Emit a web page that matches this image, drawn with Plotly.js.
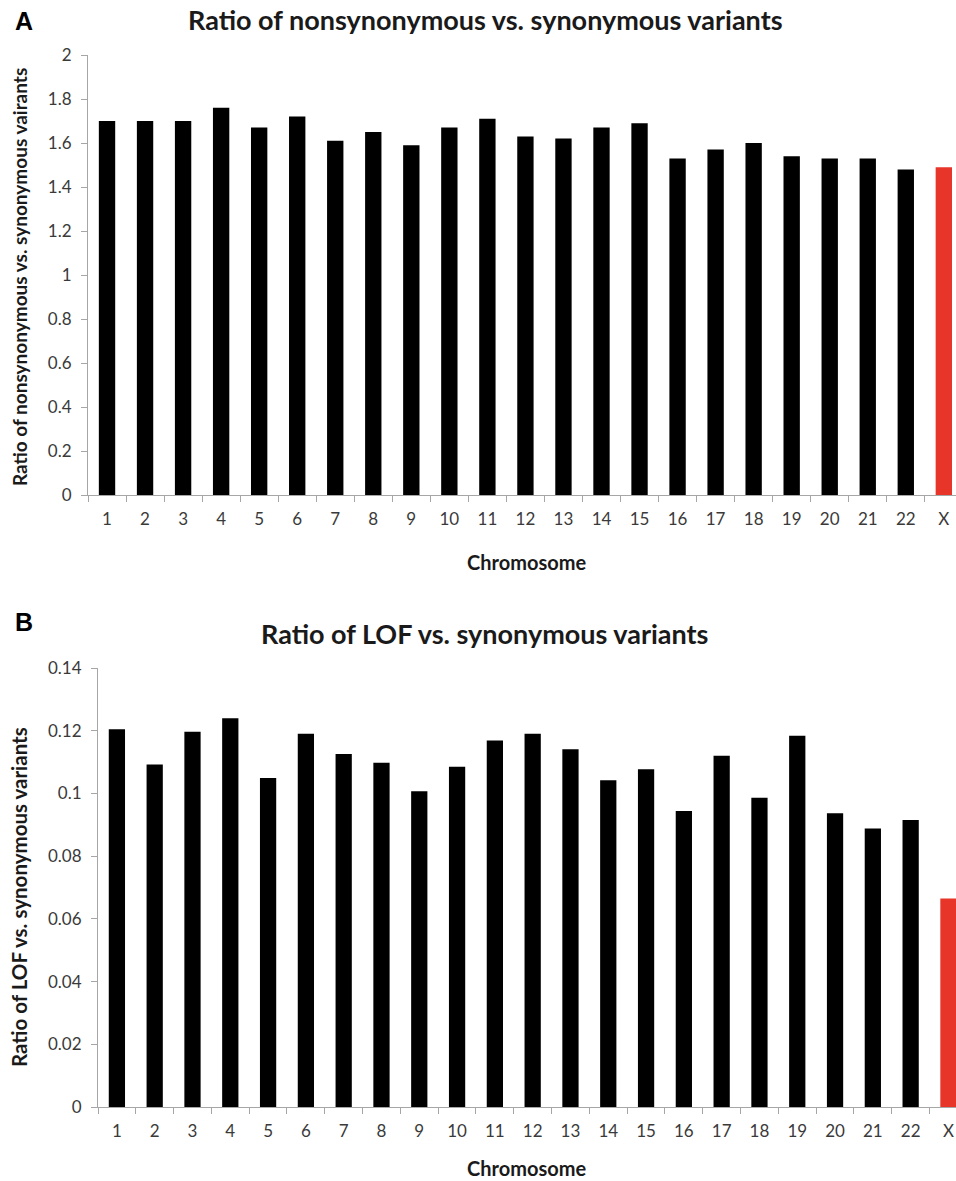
<!DOCTYPE html>
<html>
<head>
<meta charset="utf-8">
<script src="https://cdn.plot.ly/plotly-3.0.1.min.js"></script>
<style>html,body{margin:0;padding:0;background:#fff;}#chart{width:956px;height:1181px;}</style>
</head>
<body>
<div id="chart"></div>
<script>
const chromosomes = ['1','2','3','4','5','6','7','8','9','10','11','12','13','14','15','16','17','18','19','20','21','22','X'];
const nonsynRatio = [1.70,1.70,1.70,1.76,1.67,1.72,1.61,1.65,1.59,1.67,1.71,1.63,1.62,1.67,1.69,1.53,1.57,1.60,1.54,1.53,1.53,1.48,1.49];
const lofRatio = [0.1205,0.1092,0.1197,0.1240,0.1049,0.1190,0.1126,0.1098,0.1007,0.1085,0.1169,0.1190,0.1141,0.1042,0.1077,0.0944,0.1120,0.0986,0.1184,0.0937,0.0888,0.0915,0.0665];
const titleA = 'Ratio of nonsynonymous vs. synonymous variants';
const titleB = 'Ratio of LOF vs. synonymous variants';
const yTitleA = 'Ratio of nonsynonymous vs. synonymous vairants';
const yTitleB = 'Ratio of LOF vs. synonymous variants';
const xTitle = 'Chromosome';

const W = 956, H = 1181;
const barColors = chromosomes.map(c => c === 'X' ? '#e8352a' : '#000000');
const FONT = 'Lato, "Open Sans", sans-serif';

const traces = [
  {type:'bar', x:chromosomes, y:nonsynRatio, marker:{color:barColors, line:{width:0}}, xaxis:'x', yaxis:'y', hoverinfo:'x+y'},
  {type:'bar', x:chromosomes, y:lofRatio, marker:{color:barColors, line:{width:0}}, xaxis:'x2', yaxis:'y2', hoverinfo:'x+y'}
];

const axisCommon = {
  showgrid:false, zeroline:false, showline:true, linecolor:'#a6a6a6', linewidth:1,
  ticks:'outside', ticklen:6, tickcolor:'#a6a6a6', tickwidth:1,
  tickfont:{family:FONT, size:17, color:'#3a3a3a'}, fixedrange:true
};

const py = v => 1 - v / H;
const px = v => v / W;

const layout = {
  width:W, height:H, margin:{l:0,r:0,t:0,b:0}, paper_bgcolor:'#fff', plot_bgcolor:'#fff',
  showlegend:false, bargap:0.57,
  xaxis: Object.assign({}, axisCommon, {domain:[px(88),1], anchor:'y', type:'category', range:[-0.5,22.32], tickson:'boundaries', ticklabelstandoff:9}),
  yaxis: Object.assign({}, axisCommon, {domain:[py(495),py(55)], anchor:'x', range:[0,2], tickvals:[0,0.2,0.4,0.6,0.8,1,1.2,1.4,1.6,1.8,2], ticktext:['0','0.2','0.4','0.6','0.8','1','1.2','1.4','1.6','1.8','2'], ticklabelstandoff:6}),
  xaxis2: Object.assign({}, axisCommon, {domain:[px(98),1], anchor:'y2', type:'category', range:[-0.5,22.2], tickson:'boundaries', ticklabelstandoff:9}),
  yaxis2: Object.assign({}, axisCommon, {domain:[py(1107),py(668)], anchor:'x2', range:[0,0.14], tickvals:[0,0.02,0.04,0.06,0.08,0.1,0.12,0.14], ticktext:['0','0.02','0.04','0.06','0.08','0.1','0.12','0.14'], ticklabelstandoff:6}),
  annotations: [
    {text:'<b>A</b>', xref:'paper', yref:'paper', x:px(13), y:py(21), xanchor:'left', yanchor:'middle', showarrow:false, font:{family:'"Liberation Sans", Arial, sans-serif', size:25, color:'#000'}},
    {text:'<b>B</b>', xref:'paper', yref:'paper', x:px(13), y:py(622), xanchor:'left', yanchor:'middle', showarrow:false, font:{family:'"Liberation Sans", Arial, sans-serif', size:25, color:'#000'}},
    {text:'<b>'+titleA+'</b>', xref:'paper', yref:'paper', x:px(485), y:py(19), xanchor:'center', yanchor:'middle', showarrow:false, font:{family:FONT, size:27, color:'#1a1a1a'}},
    {text:'<b>'+titleB+'</b>', xref:'paper', yref:'paper', x:px(484), y:py(633), xanchor:'center', yanchor:'middle', showarrow:false, font:{family:FONT, size:27, color:'#1a1a1a'}},
    {text:'<b>'+xTitle+'</b>', xref:'paper', yref:'paper', x:px(526), y:py(562), xanchor:'center', yanchor:'middle', showarrow:false, font:{family:FONT, size:20, color:'#1a1a1a'}},
    {text:'<b>'+xTitle+'</b>', xref:'paper', yref:'paper', x:px(526), y:py(1168), xanchor:'center', yanchor:'middle', showarrow:false, font:{family:FONT, size:20, color:'#1a1a1a'}},
    {text:'<b>'+yTitleA+'</b>', xref:'paper', yref:'paper', x:px(19), y:py(277), xanchor:'center', yanchor:'middle', textangle:-90, showarrow:false, font:{family:FONT, size:19, color:'#1a1a1a'}},
    {text:'<b>'+yTitleB+'</b>', xref:'paper', yref:'paper', x:px(19), y:py(897), xanchor:'center', yanchor:'middle', textangle:-90, showarrow:false, font:{family:FONT, size:20.5, color:'#1a1a1a'}}
  ]
};

Plotly.newPlot('chart', traces, layout, {displayModeBar:false, staticPlot:true});
</script>
</body>
</html>
